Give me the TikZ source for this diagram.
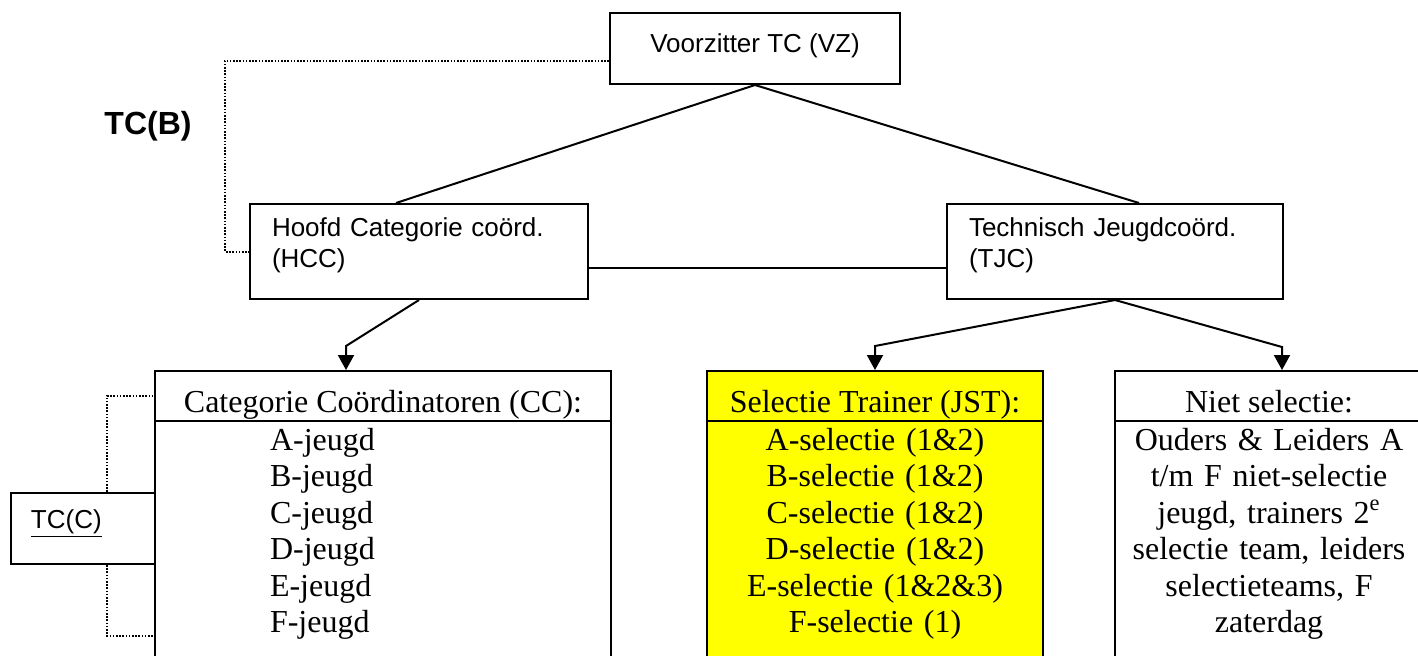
\documentclass[tikz,border=0pt]{standalone}
\usepackage{fontspec}
\setmainfont{Liberation Serif}
\setsansfont{Liberation Sans}
\usepackage{tikz}
\usetikzlibrary{arrows.meta}
\definecolor{jstyellow}{RGB}{255,255,0}

\tikzset{
  orgbox/.style={draw, line width=1pt, inner ysep=0pt, anchor=north west},
  sanstxt/.style={font=\sffamily\fontsize{13}{15.5}\selectfont},
  seriftxt/.style={font=\fontsize{16}{18.25}\selectfont},
  head/.style={orgbox, seriftxt, text height=20.5pt, text depth=4.5pt},
  body/.style={orgbox, seriftxt, text height=14.5pt, text depth=110.5pt},
  arr/.style={line width=1pt, -{Triangle[width=8pt,length=7.5pt]}},
  link/.style={line width=1pt},
  dotlink/.style={line width=1pt, dash pattern=on 0.8pt off 0.8pt}
}

\begin{document}
\begin{tikzpicture}[x=0.5pt, y=-0.5pt]
 \useasboundingbox (0,0) rectangle (1418,655);
 \clip (0,0) rectangle (1418,655);
 \node[orgbox, sanstxt, anchor=north, minimum width=145pt, text height=19.65pt, text depth=15.85pt] (vz) at (755,12) {Voorzitter TC (VZ)};
 \node[orgbox, sanstxt, align=left, text width=147pt, inner xsep=11pt, text height=16pt, text depth=31.5pt] (hcc) at (249,203) {Hoofd Categorie coörd.\\(HCC)};
 \node[orgbox, sanstxt, align=left, text width=146pt, inner xsep=11pt, text height=16pt, text depth=31.5pt] (tjc) at (946,203) {Technisch Jeugdcoörd.\\(TJC)};
 \node[font=\sffamily\bfseries\fontsize{16}{19}\selectfont, anchor=base] (tcb) at (148,134) {TC(B)};

 \node[head, minimum width=228pt] (cchead) at (154,370) {Categorie Coördinatoren (CC):};
 \node[body, minimum width=228pt, align=left, text width=113pt, inner xsep=57.5pt] (ccbody) at (154,420) {A-jeugd\\B-jeugd\\C-jeugd\\D-jeugd\\E-jeugd\\F-jeugd};
 \node[head, fill=jstyellow, minimum width=168pt] (selhead) at (706,370) {Selectie Trainer (JST):};
 \node[body, fill=jstyellow, minimum width=168pt, align=center, text width=158pt, inner xsep=5pt] (selbody) at (706,420) {A-selectie (1\&2)\\B-selectie (1\&2)\\C-selectie (1\&2)\\D-selectie (1\&2)\\E-selectie (1\&2\&3)\\F-selectie (1)};
 \node[head, minimum width=154pt] (niethead) at (1114,370) {Niet selectie:};
 \node[body, minimum width=154pt, align=center, text width=144pt, inner xsep=5pt] (nietbody) at (1114,420) {Ouders \& Leiders A\\t/m F niet-selectie\\jeugd, trainers 2\textsuperscript{e}\\selectie team, leiders\\selectieteams, F\\zaterdag};
 \node[orgbox, sanstxt, align=left, text width=52pt, inner xsep=10pt, text height=17.5pt, text depth=18pt] (tcc) at (10,492) {\underline{TC(C)}};

 \coordinate (hccbend) at (346,346);
 \coordinate (nietbend) at (1282,347);
 \coordinate (ccf) at (154,636);

 \draw[link] (vz.south) -- ([xshift=-11.5pt]hcc.north);
 \draw[link] (vz.south) -- ([xshift=12pt]tjc.north);
 \draw[link] ([yshift=-8pt]hcc.east) -- ([yshift=-8pt]tjc.west);
 \draw[arr] (hcc.south) -- (hccbend) -- (hccbend |- cchead.north);
 \draw[arr] (tjc.south) -- (selhead.north |- hccbend) -- (selhead.north);
 \draw[arr] (tjc.south) -- (nietbend) -- (nietbend |- niethead.north);
 \draw[dotlink] ([yshift=-6pt]vz.west) -| ([xshift=-12pt]hcc.west) -- (hcc.west);
 \draw[dotlink] ([xshift=12pt]tcc.north) |- (cchead.west);
 \draw[dotlink] ([xshift=12pt]tcc.south) |- (ccf);
\end{tikzpicture}
\end{document}
